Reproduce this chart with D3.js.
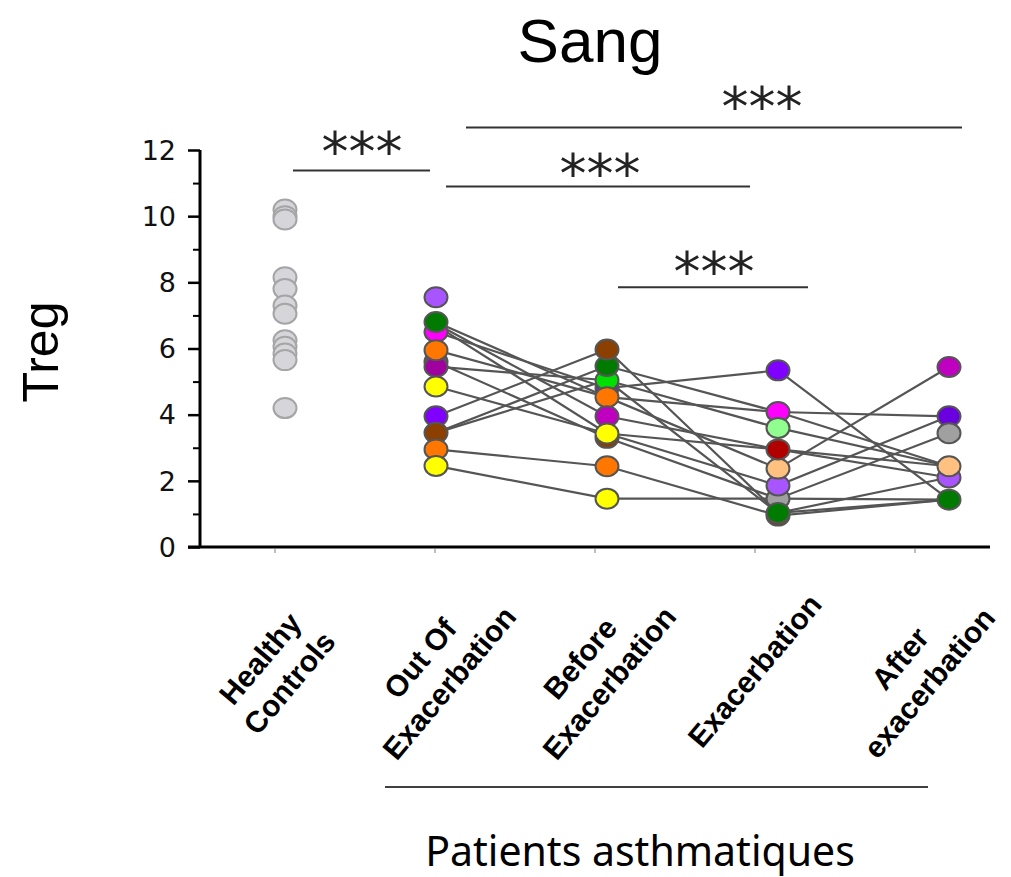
<!DOCTYPE html>
<html><head><meta charset="utf-8">
<script src="https://cdn.jsdelivr.net/npm/d3@7"></script>
<style>html,body{margin:0;padding:0;background:#fff}</style>
</head><body>
<svg id="chart" width="1011" height="877"></svg>
<script>
// ---------- data ----------
const categories = ["Healthy Controls","Out Of Exacerbation","Before Exacerbation","Exacerbation","After exacerbation"];
const categoryLines = [["Healthy","Controls"],["Out Of","Exacerbation"],["Before","Exacerbation"],["Exacerbation"],["After","exacerbation"]];
const yTicks = [0,2,4,6,8,10,12];
const yMinorTicks = [1,3,5,7,9,11];

const healthyValues = [10.2,10.0,9.9,8.15,7.8,7.3,7.05,6.25,6.05,5.85,5.65,4.2];

// points per column (draw order), values and fill colours
const outValues  = [7.55,5.6,5.45,6.5,6.8,5.95,4.85,3.95,3.45,2.95,2.45];
const outColors  = ["#a855ff","#7a4a9a","#a000a0","#ff00ff","#007a00","#ff7700","#ffff00","#7f00ff","#8b3f00","#ff7700","#ffff00"];
const beforeValues = [4.8,5.04,5.47,5.97,4.53,3.3,3.95,3.43,2.44,1.46];
const beforeColors = ["#7030a0","#00e000","#007a00","#8b3f00","#ff7700","#8b3f00","#c000c0","#ffff00","#ff7700","#ffff00"];
const exacValues = [1.46,0.95,1.03,1.86,2.37,2.95,4.08,3.6,5.34];
const exacColors = ["#a0a0a0","#8b3f00","#007a00","#a855ff","#ffc080","#b00000","#ff00ff","#90ff90","#7f00ff"];
const afterValues = [1.43,2.1,2.44,3.95,3.44,5.44];
const afterColors = ["#007a00","#a855ff","#ffc080","#6a00e0","#a0a0a0","#c000c0"];

// patient trajectories (out, before, exacerbation, after)
const patientOut    = [6.8,6.75,6.5,6.7,5.95,5.6,5.45,4.85,3.95,3.45,3.45,2.95,2.45];
const patientBefore = [4.53,3.95,4.8,3.43,4.53,3.3,5.04,3.43,5.97,5.47,5.04,2.44,1.46];
const patientExac   = [4.08,2.95,5.34,1.86,2.37,1.46,3.6,2.95,1.03,4.08,1.03,0.95,1.46];
const patientAfter  = [3.95,2.44,1.43,3.95,5.44,3.44,2.44,2.1,1.43,2.44,2.1,1.43,1.43];

const significance = ["***","***","***","***"];

// ---------- layout ----------
const svg = d3.select("#chart");
const y = d3.scaleLinear().domain([0,12]).range([547,150]);
const xDot = d3.scaleOrdinal().domain(categories).range([285,436,607,778,949]);
const xLabel = d3.scalePoint().domain(categories).range([275,915]);

// title
svg.append("text").attr("x",590).attr("y",62).attr("text-anchor","middle")
  .attr("font-family","Liberation Sans, Arial, sans-serif").attr("font-size",62).text("Sang");

// y label
svg.append("text").attr("transform","translate(58,352) rotate(-90)").attr("text-anchor","middle")
  .attr("font-family","Liberation Sans, Arial, sans-serif").attr("font-size",50).text("Treg");

// y axis
const yAxis = svg.append("g").attr("transform","translate(200,0)")
  .call(d3.axisLeft(y).tickValues(yTicks).tickSize(12).tickPadding(12).tickFormat(d3.format("d")));
yAxis.select(".domain").attr("stroke","#000").attr("stroke-width",3).attr("d","M0,150V548");
yAxis.selectAll(".tick line").attr("stroke","#000").attr("stroke-width",2.5);
yAxis.selectAll(".tick text").attr("font-family","DejaVu Sans, sans-serif").attr("font-size",27).attr("fill","#111").attr("dy","0.34em");
svg.append("g").attr("transform","translate(200,0)")
  .call(d3.axisLeft(y).tickValues(yMinorTicks).tickSize(7).tickFormat(""))
  .call(g=>g.select(".domain").remove())
  .selectAll(".tick line").attr("stroke","#000").attr("stroke-width",2);

// x axis line
svg.append("line").attr("x1",188).attr("x2",990).attr("y1",y(0)).attr("y2",y(0))
  .attr("stroke","#000").attr("stroke-width",3);
svg.append("g").selectAll("line").data(categories).join("line")
  .attr("x1",d=>xLabel(d)).attr("x2",d=>xLabel(d)).attr("y1",y(0)+2).attr("y2",y(0)+6)
  .attr("stroke","#aaa").attr("stroke-width",1.5);

// x labels
const lab = svg.append("g").selectAll("g").data(categories).join("g")
  .attr("transform",d=>`translate(${xLabel(d)},671) rotate(-50)`);
lab.each(function(d,i){
  const lines = categoryLines[i];
  const n = lines.length;
  const t = d3.select(this).append("text").attr("text-anchor","middle")
    .attr("font-family","Liberation Sans, Arial, sans-serif").attr("font-weight","bold").attr("font-size",30);
  lines.forEach((s,k)=>{
    t.append("tspan").attr("x",0).attr("y",(k-(n-1)/2)*38+10).text(s);
  });
});

// group line + caption
svg.append("line").attr("x1",385).attr("x2",928).attr("y1",787).attr("y2",787).attr("stroke","#000").attr("stroke-width",1.5);
svg.append("text").attr("x",640).attr("y",866).attr("text-anchor","middle")
  .attr("font-family","Noto Sans, sans-serif").attr("font-size",41).text("Patients asthmatiques");

// significance brackets
const brackets = [
  {x1:293,x2:430,yv:11.38,cx:362,dy:-1},
  {x1:466,x2:962,yv:12.68,cx:762,dy:-3},
  {x1:446,x2:750,yv:10.9,cx:600,dy:6},
  {x1:618,x2:808,yv:7.85,cx:714,dy:3}
];
const br = svg.append("g").selectAll("g").data(brackets).join("g");
br.append("line").attr("x1",d=>d.x1).attr("x2",d=>d.x2).attr("y1",d=>y(d.yv)).attr("y2",d=>y(d.yv))
  .attr("stroke","#333").attr("stroke-width",2);
br.append("text").attr("x",d=>d.cx).attr("y",d=>y(d.yv)+d.dy).attr("text-anchor","middle")
  .attr("font-family","DejaVu Sans, sans-serif").attr("font-size",54).attr("fill","#222")
  .text((d,i)=>significance[i]);

// patient lines
const patients = patientOut.map((v,i)=>[v,patientBefore[i],patientExac[i],patientAfter[i]]);
const line = d3.line().x((d,i)=>xDot(categories[i+1])).y(d=>y(d));
svg.append("g").selectAll("path").data(patients).join("path")
  .attr("d",line).attr("fill","none").attr("stroke","#555").attr("stroke-width",2.2);

// points
function drawPoints(cat, values, colors, stroke){
  svg.append("g").selectAll("ellipse").data(values).join("ellipse")
    .attr("cx",xDot(cat)).attr("cy",d=>y(d)).attr("rx",11.5).attr("ry",10)
    .attr("fill",(d,i)=>colors[i]).attr("stroke",stroke).attr("stroke-width",2);
}
drawPoints(categories[0], healthyValues, healthyValues.map(()=>"#d6d6da"), "#a5a5a8");
drawPoints(categories[1], outValues, outColors, "#555");
drawPoints(categories[2], beforeValues, beforeColors, "#555");
drawPoints(categories[3], exacValues, exacColors, "#555");
drawPoints(categories[4], afterValues, afterColors, "#555");
</script>
</body></html>
